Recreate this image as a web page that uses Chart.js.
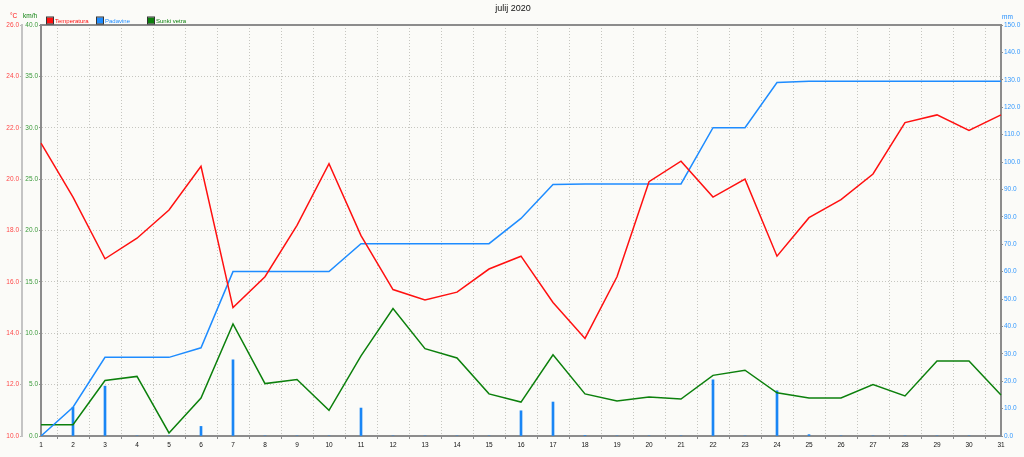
<!DOCTYPE html>
<html>
<head>
<meta charset="utf-8">
<script src="https://cdn.jsdelivr.net/npm/chart.js@4/dist/chart.umd.min.js"></script>
<style>
  html, body { margin: 0; padding: 0; background: #fbfbf8; }
  canvas { display: block; }
</style>
</head>
<body>
<canvas id="myChart" width="1024" height="457"></canvas>
<script>
const naslov = 'julij 2020';
const dnevi = ['1', '2', '3', '4', '5', '6', '7', '8', '9', '10', '11', '12', '13', '14', '15', '16',
  '17', '18', '19', '20', '21', '22', '23', '24', '25', '26', '27', '28', '29', '30', '31'];

// °C
const temperatura = [21.4, 19.3, 16.9, 17.7, 18.8, 20.5, 15.0, 16.2, 18.2, 20.6, 17.8, 15.7, 15.3, 15.6, 16.5, 17.0,
  15.2, 13.8, 16.2, 19.9, 20.7, 19.3, 20.0, 17.0, 18.5, 19.2, 20.2, 22.2, 22.5, 21.9, 22.5];

// mm, summed over the month
const padavine = [0, 10.5, 28.7, 28.7, 28.7, 32.2, 60.0, 60.0, 60.0, 60.0, 70.2, 70.2, 70.2, 70.2, 70.2, 79.4,
  91.8, 92.0, 92.0, 92.0, 92.0, 112.5, 112.5, 129.0, 129.5, 129.5, 129.5, 129.5, 129.5, 129.5, 129.5];

// mm per day
const padavineDnevne = [0, 10.5, 18.2, 0, 0, 3.5, 27.8, 0, 0, 0, 10.2, 0, 0, 0, 0, 9.2,
  12.4, 0.2, 0, 0, 0, 20.5, 0, 16.5, 0.5, 0, 0, 0, 0, 0, 0];

// km/h
const sunkiVetra = [1.1, 1.1, 5.4, 5.8, 0.3, 3.7, 10.9, 5.1, 5.5, 2.5, 7.8, 12.4, 8.5, 7.6, 4.1, 3.3,
  7.9, 4.1, 3.4, 3.8, 3.6, 5.9, 6.4, 4.2, 3.7, 3.7, 5.0, 3.9, 7.3, 7.3, 4.0];

const RED = '#ff1010';
const BLUE = '#1e8cff';
const GREEN = '#0c800c';
const GRID = '#c6c6c0';
const FONT = 'Liberation Sans, Arial, sans-serif';

const fixed1 = v => Number(v).toFixed(1);

// header texts, legend and frame
const decor = {
  id: 'decor',
  beforeDraw(chart) {
    const { ctx } = chart;
    ctx.save();
    ctx.fillStyle = '#fbfbf8';
    ctx.fillRect(0, 0, chart.width, chart.height);
    ctx.restore();
  },
  afterDraw(chart) {
    const { ctx, chartArea } = chart;
    ctx.save();
    ctx.strokeStyle = '#8c8c8c';
    ctx.lineWidth = 2;
    ctx.beginPath();
    ctx.moveTo(chartArea.left - 1, chartArea.top);
    ctx.lineTo(chartArea.right + 1, chartArea.top);
    ctx.stroke();

    ctx.textBaseline = 'alphabetic';
    ctx.font = '9px ' + FONT;
    ctx.fillStyle = '#111';
    ctx.textAlign = 'center';
    ctx.fillText(naslov, 513, 11);

    ctx.font = '6.5px ' + FONT;
    ctx.textAlign = 'left';
    ctx.fillStyle = RED;
    ctx.fillText('°C', 10, 18);
    ctx.fillStyle = GREEN;
    ctx.fillText('km/h', 23, 18);
    ctx.fillStyle = BLUE;
    ctx.fillText('mm', 1002, 19);

    const items = chart.data.datasets.filter(d => d.type === 'line');
    const xs = [47, 97, 148];
    ctx.font = '6px ' + FONT;
    items.forEach((d, i) => {
      const x = xs[i];
      ctx.fillStyle = d.borderColor;
      ctx.fillRect(x, 17.5, 6, 6);
      ctx.strokeStyle = '#333';
      ctx.lineWidth = 1;
      ctx.strokeRect(x - 0.5, 17, 7, 7);
      ctx.fillText(d.label, x + 8, 23);
    });
    ctx.restore();
  },
};

const lineDefaults = {
  type: 'line',
  borderWidth: 1.5,
  pointRadius: 0,
  tension: 0,
  fill: false,
};

new Chart(document.getElementById('myChart').getContext('2d'), {
  data: {
    labels: dnevi,
    datasets: [
      { ...lineDefaults, label: 'Temperatura', data: temperatura, borderColor: RED, yAxisID: 'temp' },
      { ...lineDefaults, label: 'Padavine', data: padavine, borderColor: BLUE, yAxisID: 'mm' },
      { ...lineDefaults, label: 'Sunki vetra', data: sunkiVetra, borderColor: GREEN, yAxisID: 'veter' },
      {
        type: 'bar',
        label: 'dnevne',
        data: padavineDnevne,
        backgroundColor: '#1a86f5',
        barThickness: 2,
        yAxisID: 'mm',
      },
    ],
  },
  options: {
    responsive: false,
    animation: false,
    devicePixelRatio: 1,
    layout: { padding: { top: 25, left: 0, right: 0, bottom: 0 } },
    plugins: {
      legend: { display: false },
      title: { display: false },
      tooltip: { enabled: false },
    },
    scales: {
      x: {
        type: 'category',
        offset: false,
        grid: { color: GRID, lineWidth: 1, tickLength: 3, tickColor: '#8c8c8c' },
        border: { color: '#8c8c8c', width: 2, dash: [1, 2] },
        ticks: { color: '#111', font: { size: 6.5, family: FONT }, padding: 2, maxRotation: 0, autoSkip: false },
        afterFit: s => { s.height = 21; },
      },
      veter: {
        position: 'left',
        weight: 0,
        min: 0,
        max: 40,
        ticks: { stepSize: 5, callback: fixed1, color: '#3a9a3a', font: { size: 6.5, family: FONT }, padding: 1 },
        grid: { color: GRID, lineWidth: 1, tickLength: 2, tickColor: '#8c8c8c' },
        border: { color: '#8c8c8c', width: 2, dash: [1, 2] },
        afterFit: s => { s.width = 19; },
      },
      temp: {
        position: 'left',
        weight: 1,
        min: 10,
        max: 26,
        ticks: { stepSize: 2, callback: fixed1, color: '#ff4848', font: { size: 6.5, family: FONT }, padding: 1 },
        grid: { drawOnChartArea: false, tickLength: 2, tickColor: '#b8b8b8' },
        border: { color: '#c4c4c4', width: 2 },
        afterFit: s => { s.width = 22; },
      },
      mm: {
        position: 'right',
        min: 0,
        max: 150,
        ticks: { stepSize: 10, autoSkip: false, callback: fixed1, color: '#3399ff', font: { size: 6.5, family: FONT }, padding: 1 },
        grid: { drawOnChartArea: false, tickLength: 2, tickColor: '#8c8c8c' },
        border: { color: '#8c8c8c', width: 2 },
        afterFit: s => { s.width = 23; },
      },
    },
  },
  plugins: [decor],
});
</script>
</body>
</html>
